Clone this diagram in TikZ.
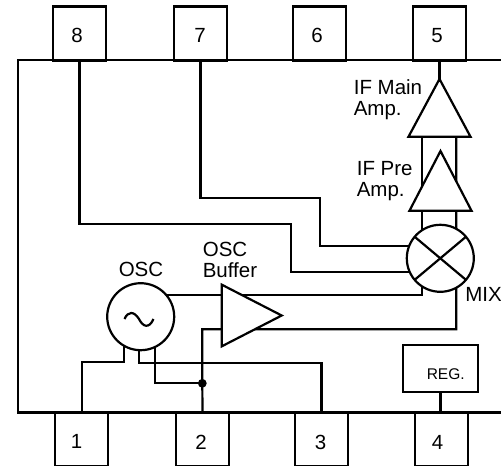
\documentclass[tikz,border=0pt]{standalone}
\usepackage{fontspec}
\setmainfont{Liberation Sans}
\usetikzlibrary{shapes.geometric}
\usetikzlibrary{backgrounds}
\tikzstyle{pin} = [rectangle, draw, minimum width=53pt, minimum height=54pt, outer sep=0pt]
\tikzstyle{digit} = [inner sep=0pt, font=\fontsize{20.5}{21.5}\selectfont]
\tikzstyle{caption} = [inner sep=0pt, align=left, anchor=west, font=\fontsize{20.5}{21.5}\selectfont]
\tikzstyle{disc} = [draw, circle, fill=white, minimum size=67pt, inner sep=0pt, outer sep=0pt]
\tikzstyle{amp} = [draw, isosceles triangle, isosceles triangle stretches, fill=white,
    inner sep=0pt, outer sep=0pt, miter limit=10]
\tikzstyle{wire} = [draw, line width=2.2pt]

\begin{document}
\begin{tikzpicture}[x=1pt, y=-1pt, line width=2.2pt, node distance=120pt]
    \useasboundingbox (0,0) rectangle (501,466);
    % Place nodes
    \node[pin] (pin8) at (79.5,33.5) {};
    \node[pin, right of=pin8, node distance=121pt] (pin7) {};
    \node[pin, right of=pin7, node distance=119pt] (pin6) {};
    \node[pin, right of=pin6] (pin5) {};
    \node[pin] (pin1) at (81.5,439.5) {};
    \node[pin, right of=pin1, node distance=121pt] (pin2) {};
    \node[pin, right of=pin2, node distance=119pt] (pin3) {};
    \node[pin, right of=pin3] (pin4) {};
    \node[digit] (num8) at (77,35.5) {8};
    \node[digit] (num7) at (200,35.5) {7};
    \node[digit] (num6) at (317,35.5) {6};
    \node[digit] (num5) at (437,35.5) {5};
    \node[digit] (num1) at (76.5,441.5) {1};
    \node[digit] (num2) at (201,442.5) {2};
    \node[digit] (num3) at (320.5,442.5) {3};
    \node[digit] (num4) at (437.5,442.5) {4};
    \node[amp, shape border rotate=90, minimum width=62pt, minimum height=57.7pt,
        anchor=apex] (mainamp) at (439.5,79) {};
    \node[amp, shape border rotate=90, minimum width=62pt, minimum height=59.7pt,
        anchor=apex] (preamp) at (440.5,151) {};
    \node[amp, minimum width=61.7pt, minimum height=60pt,
        anchor=apex] (buffer) at (281.7,315.5) {};
    \node[disc] (mix) at (440.3,258.3) {};
    \node[disc] (osc) at (140.7,316.7) {};
    \node[draw, rectangle, minimum width=74.4pt, minimum height=47pt, outer sep=0pt] (reg) at (440.5,368.5) {};
    \node[inner sep=0pt, font=\fontsize{15.5}{16}\selectfont] (regtext) at (445.7,374.3) {REG.};
    \node[caption] (maintext) at (352.7,99.5) {IF Main\\Amp.};
    \node[caption] (pretext) at (355.7,181) {IF Pre\\Amp.};
    \node[caption] (buftext) at (201.7,260) {OSC\\Buffer};
    \node[digit] (osctext) at (141,269.5) {OSC};
    \node[caption] (mixtext) at (464.3,294.5) {MIX};
    \fill (202.3,383.3) circle (4.4pt) coordinate (joint);
    % Bends
    \coordinate (bend8) at (291,223.7);
    \coordinate (end8) at (430,271.7);
    \coordinate (bend7) at (320,198.3);
    \coordinate (end7) at (430,246);
    \coordinate (bend1) at (82.3,362.3);
    \coordinate (bend3) at (138.7,363.3);
    \coordinate (mixleft) at (422.3,295);
    \coordinate (mixright) at (456.3,329.3);
    % Draw edges
    \begin{scope}[on background layer]
        \path [wire] (pin8.south) |- (bend8) |- (end8);
        \path [wire] (pin7.south) |- (bend7) |- (end7);
        \path [wire] (pin5.south) -- (mainamp.apex);
        \path [wire] (422.3,130) -- (mixleft) -- (osc.center |- mixleft);
        \path [wire] (456.3,130) -- (mixright) -| (joint) -- (pin2.north);
        \path [wire] (124.3,330) |- (bend1) -- (bend1 |- pin1.north);
        \path [wire] (bend3 |- osc.center) -- (bend3) -| (pin3.north);
        \path [wire] (155.3,330) |- (joint);
        \path [wire] (reg.south) -- (reg.south |- pin4.north);
    \end{scope}
    % Draw box
    \draw (506,60) -- (18,60) -- (18,412.5) -- (506,412.5);
    % Mixer cross and sine
    \draw (mix.40) -- (mix.220);
    \draw (mix.140) -- (mix.320);
    \draw (124.5,319) .. controls (128,311) and (134,311) .. (139,319) .. controls (143,327) and (149,329) .. (153.5,319);
\end{tikzpicture}
\end{document}
